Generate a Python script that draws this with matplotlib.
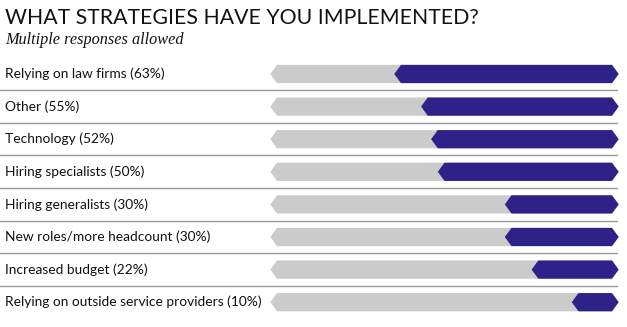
import matplotlib
matplotlib.use("Agg")
import matplotlib.pyplot as plt

labels = ["Relying on law firms (63%)", "Other (55%)", "Technology (52%)",
          "Hiring specialists (50%)", "Hiring generalists (30%)",
          "New roles/more headcount (30%)", "Increased budget (22%)",
          "Relying on outside service providers (10%)"]
values = [63, 55, 52, 50, 30, 30, 22, 10]

gray = "#CBCBCB"
blue = "#2E2289"
line_c = "#9A9A9A"

fig = plt.figure(figsize=(6.27, 3.27), dpi=100)
ax = fig.add_axes([0, 0, 1, 1])
ax.axis("off")

# 1 data unit = 3.35 px horizontally, 1 row = 32.6 px vertically
ax.set_xlim(-277 / 3.35, (627 - 277) / 3.35)
ax.set_ylim((327 - 74) / 32.6, -74 / 32.6)

h = 0.28   # half bar height
tip = 2.0  # arrow tip width

def hexbar(x0, x1, color):
    xs = [x0 - tip, x0, x1, x1 + tip, x1, x0]
    ys = [0, -h, -h, 0, h, h]
    return xs, ys, color

for i, (lab, v) in enumerate(zip(labels, values)):
    xs, ys, c = hexbar(0, 100, gray)
    ax.fill(xs, [y + i for y in ys], color=c, lw=0)
    xs, ys, c = hexbar(100 - v, 100, blue)
    ax.fill(xs, [y + i for y in ys], color=c, lw=0)
    ax.text(-81.3, i, lab, va="center", ha="left", fontsize=9.9,
            family="Lato", color="#111111")
    if i < len(labels) - 1:
        ax.plot([-83, 101.5], [i + 0.5, i + 0.5], color=line_c, lw=1)

fig.text(5 / 627, 1 - 18 / 327, "WHAT STRATEGIES HAVE YOU IMPLEMENTED?",
         fontsize=15.3, family="Lato", va="center", ha="left", color="#111111")
fig.text(5 / 627, 1 - 40 / 327, "Multiple responses allowed",
         fontsize=11.7, family="Liberation Serif", style="italic",
         va="center", ha="left", color="#111111")

fig.savefig("out.png", dpi=100)
